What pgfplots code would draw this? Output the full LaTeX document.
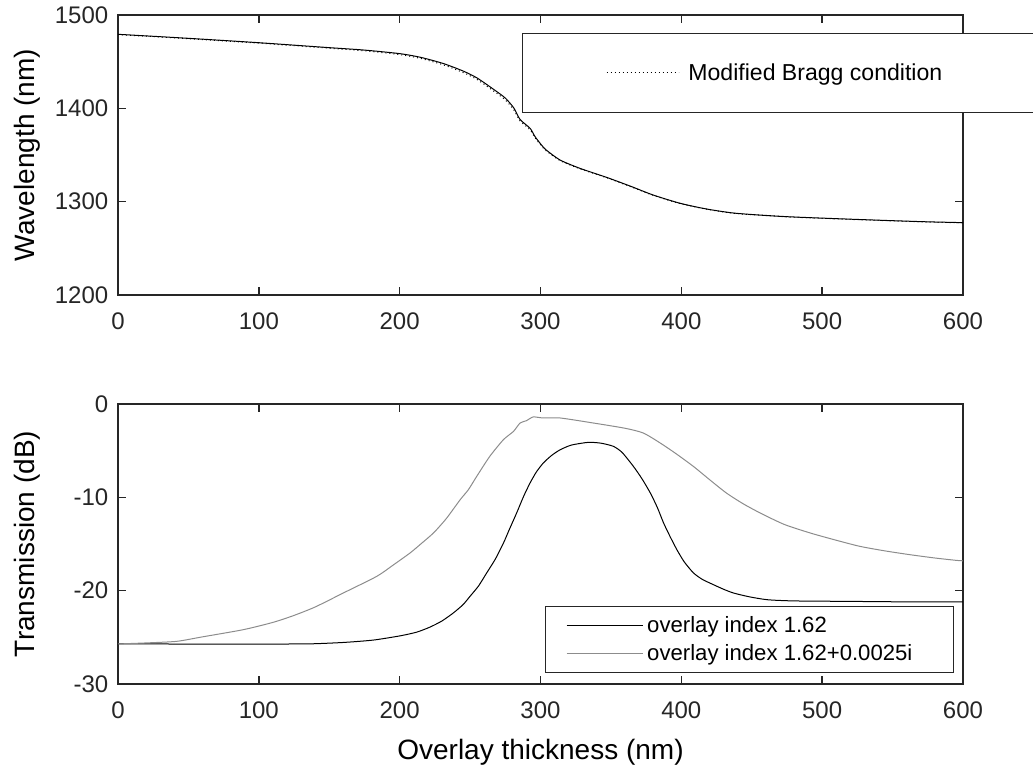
\documentclass[border=0pt]{standalone}
\usepackage{pgfplots}
\pgfplotsset{compat=1.18}
\usepackage{fontspec}
\setmainfont{Liberation Sans}
\definecolor{axc}{gray}{0.15}
\definecolor{curvegray}{gray}{0.55}
\pgfplotsset{
  myax/.style={
    scale only axis, width=633.75pt, height=210pt,
    xmin=0, xmax=600,
    axis line style={color=axc, line width=1.1pt},
    every tick/.style={color=axc, line width=1.1pt},
    tick align=inside, tickpos=both, major tick length=6pt,
    xtick={0,100,200,300,400,500,600},
    xticklabels={0,100,200,300,400,500,600},
    ticklabel style={font=\fontsize{18}{20}\selectfont, text=axc},
    xticklabel style={yshift=-9.5pt},
    yticklabel style={xshift=-3.75pt},
    label style={font=\fontsize{21}{24}\selectfont},
    xlabel style={at={(axis description cs:0.5,-0.243)}, anchor=center},
    ylabel style={at={(axis description cs:-0.1077,0.5)}, anchor=center, rotate=0},
    legend style={draw=axc, line width=0.8pt, fill=white,
      nodes={inner sep=3pt}},
    legend cell align=left,
  }
}
\begin{document}
\begin{tikzpicture}
\useasboundingbox (0,0) rectangle (774.75pt,579.75pt);
% top axis
\begin{axis}[myax,
  at={(88.5pt,358.5pt)}, anchor=south west,
  ymin=1200, ymax=1500,
  ytick={1200,1300,1400,1500},
  yticklabels={1200,1300,1400,1500},
  ylabel={Wavelength (nm)},
  legend style={at={(axis description cs:0.478,0.936)}, anchor=north west,
    font=\fontsize{17.3}{19}\selectfont,
    inner xsep=62.75pt, inner ysep=19.5pt,
    /tikz/every even column/.append style={column sep=10pt}},
  legend image code/.code={\draw[#1] (0pt,0pt) -- (54pt,0pt);},
]
\addplot[black, line width=0.75pt, smooth, tension=0.4, forget plot] coordinates {
(0,1479.3) (50,1475) (100,1470.3) (150,1465) (175,1462.4) (200,1458.6) (215,1454.6)
(231,1448) (245,1440) (255,1432.5) (267,1420) (275,1411) (281,1400.5) (285.5,1388)
(292.6,1378.6) (296,1370) (300,1362) (304,1355.4) (313.9,1344.6) (328,1335.7) (347,1326)
(364,1316.5) (380,1307.1) (399,1298.3) (418,1292.1) (439,1287.5) (475,1283.9)
(522,1281.1) (570,1278.6) (600,1277.5)};
\addplot[black, line width=0.75pt, smooth, tension=0.4, dash pattern=on 0.75pt off 2.25pt] coordinates {
(0,1479.0) (50,1474.6) (100,1469.8) (150,1464.4) (175,1461.6) (200,1457.6) (215,1453.4)
(231,1446.6) (245,1438.4) (255,1430.8) (267,1418.2) (275,1409.0) (281,1398.5) (285.5,1386.5)
(292.6,1377.0) (296,1368.8) (300,1361) (304,1354.6) (313.9,1344.0) (328,1335.2) (347,1325.6)
(364,1316.1) (380,1306.8) (399,1298.0) (418,1291.9) (439,1287.3) (475,1283.7)
(522,1280.9) (570,1278.4) (600,1277.3)};
\addlegendentry{\rule{4pt}{0pt}Modified Bragg condition\rule{80pt}{0pt}}
\end{axis}
% bottom axis
\begin{axis}[myax,
  at={(88.5pt,66.75pt)}, anchor=south west,
  ymin=-30, ymax=0,
  ytick={-30,-20,-10,0},
  yticklabels={-30,-20,-10,0},
  ylabel={Transmission (dB)},
  xlabel={Overlay thickness (nm)},
  legend style={at={(axis description cs:0.9893,0.039)}, anchor=south east,
    font=\fontsize{16.6}{18}\selectfont,
    inner xsep=15.75pt, inner ysep=4.5pt, row sep=1.5pt,
    /tikz/every even column/.append style={column sep=6pt}},
  legend image code/.code={\draw[#1] (0pt,0pt) -- (57pt,0pt);},
]
\addplot[black, line width=0.75pt, smooth, tension=0.4] coordinates {
(0,-25.7) (50,-25.72) (100,-25.72) (136,-25.7) (160,-25.55) (181,-25.3) (200,-24.85)
(212,-24.45) (221.6,-23.9) (230,-23.25) (238,-22.4) (245,-21.5) (250,-20.6)
(256,-19.5) (261.8,-18.1) (268,-16.6) (273.7,-14.9) (278,-13.4) (283,-11.7)
(288,-9.9) (292.6,-8.46) (297,-7.3) (302,-6.32) (308,-5.5) (314,-4.9) (322,-4.4)
(334,-4.11) (343,-4.2) (351.8,-4.54) (358,-5.2) (366,-6.69) (372,-8.0) (378,-9.54)
(383,-11.1) (387.4,-12.75) (392,-14.2) (396.8,-15.6) (402,-16.9) (408.6,-18.1)
(415,-18.8) (422.8,-19.36) (430,-19.85) (437,-20.25) (448,-20.65) (461,-20.97)
(480,-21.1) (520,-21.15) (560,-21.2) (600,-21.2)};
\addlegendentry{overlay index 1.62}
\addplot[curvegray, line width=0.75pt, smooth, tension=0.4] coordinates {
(0,-25.71) (20,-25.6) (41.7,-25.43) (60,-24.95) (89,-24.18) (110,-23.4) (124.5,-22.68)
(140,-21.75) (160,-20.25) (183.7,-18.47) (195,-17.3) (207.4,-15.96) (215,-15.0)
(224,-13.82) (233,-12.3) (243,-10.25) (248.8,-9.18) (254.7,-7.76) (264,-5.61)
(273.7,-3.82) (280.8,-2.94) (285.5,-2.04) (290,-1.79) (294.8,-1.39) (302,-1.5)
(314,-1.5) (337.6,-2.04) (360,-2.6) (373,-3.11) (385,-4.18) (396,-5.3) (408.6,-6.69)
(420,-8.1) (432,-9.54) (444,-10.7) (456,-11.68) (473,-12.9) (491.5,-13.82)
(510,-14.6) (527,-15.26) (545,-15.75) (562.5,-16.15) (580,-16.5) (595.6,-16.76) (600,-16.8)};
\addlegendentry{overlay index 1.62+0.0025i\rule{12pt}{0pt}}
\end{axis}
\end{tikzpicture}
\end{document}
